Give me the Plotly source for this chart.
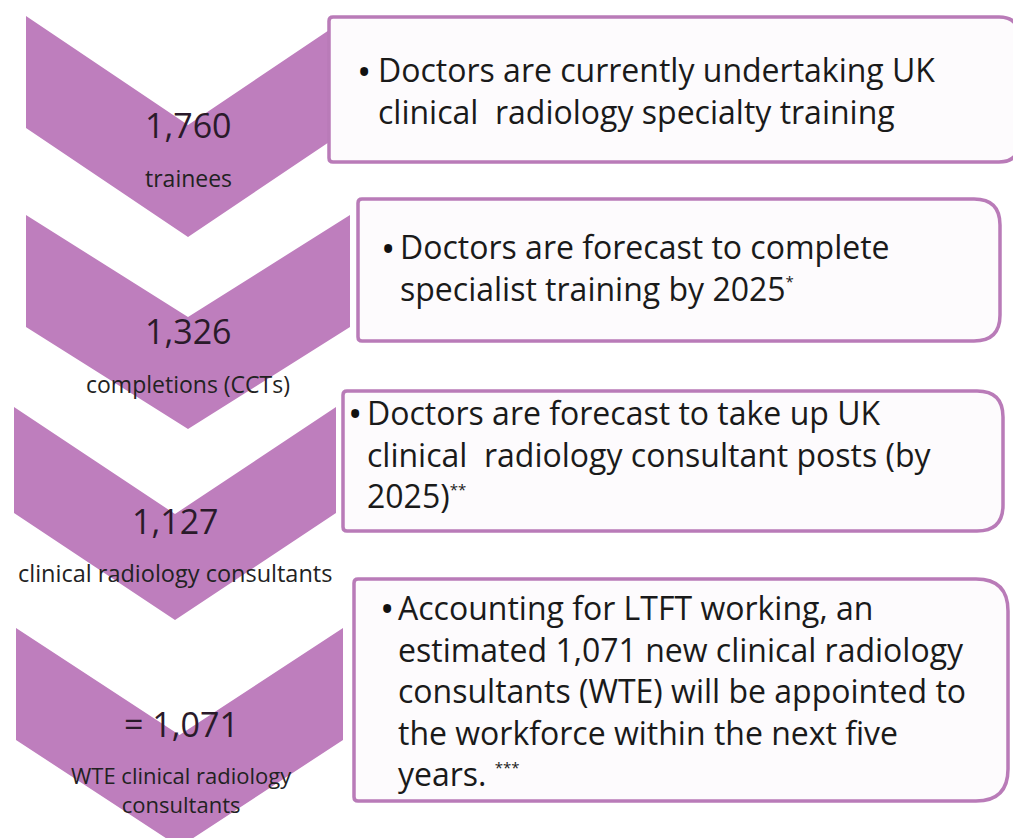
import plotly.graph_objects as go

# ---------------- data ----------------
stage_values = ["1,760", "1,326", "1,127", "= 1,071"]
stage_labels = [
    ["trainees"],
    ["completions (CCTs)"],
    ["clinical radiology consultants"],
    ["WTE clinical radiology", "consultants"],
]
SUP = '<sup><span style="font-size:15px">{}</span></sup>'
box_lines = [
    ["Doctors are currently undertaking UK",
     "clinical  radiology specialty training"],
    ["Doctors are forecast to complete",
     "specialist training by 2025" + SUP.format("*")],
    ["Doctors are forecast to take up UK",
     "clinical  radiology consultant posts (by",
     "2025)" + SUP.format("**")],
    ["Accounting for LTFT working, an",
     "estimated 1,071 new clinical radiology",
     "consultants (WTE) will be appointed to",
     "the workforce within the next five",
     "years. " + SUP.format("***")],
]

# ---------------- layout geometry (pixel space of the page) ----------------
W, H = 1021, 838
OFF = 8  # default body margin of the html page
PURPLE = "#BE7EBD"
BORDER = "#B97BB8"
FONT = "Open Sans"

# chevrons: left, right, top, left-bottom, apex
chevrons = [
    dict(L=26, R=350, T=16, B=128, A=237),
    dict(L=26, R=350, T=215, B=327, A=429),
    dict(L=14, R=336, T=407, B=513, A=620),
    dict(L=16, R=343, T=628, B=740, A=847),
]
value_y = [125, 331, 521, 724]
value_x_off = [0, 0, 0, 2]
label_y = [178, 384, 573, 789]
label_size = [23, 23, 23.5, 22]

# boxes: x0, x1, y0, y1, left radius, right radius
boxes = [
    dict(x0=329, x1=1019, y0=17, y1=162, rl=4, rr=20),
    dict(x0=358, x1=1000, y0=199, y1=341, rl=4, rr=26),
    dict(x0=343, x1=1003, y0=391, y1=531, rl=4, rr=26),
    dict(x0=354, x1=1008, y0=579, y1=801, rl=4, rr=32),
]
bullet_x = [364, 388, 355, 387]
text_x = [376, 398, 365, 396]
first_line_y = [70, 247, 412, 607]
BOX_FS = 32
LINE_H = BOX_FS * 1.3

fig = go.Figure()

# chevrons as filled polygons
for c in chevrons:
    C = (c["L"] + c["R"]) / 2
    dip = c["A"] - c["B"]
    xs = [c["L"], C, c["R"], c["R"], C, c["L"], c["L"]]
    ys = [c["T"], c["T"] + dip, c["T"], c["B"], c["A"], c["B"], c["T"]]
    fig.add_trace(go.Scatter(x=xs, y=ys, mode="lines", fill="toself",
                             fillcolor=PURPLE, line=dict(width=0, color=PURPLE),
                             hoverinfo="skip", showlegend=False))


def rounded_path(x0, x1, y0, y1, rl, rr):
    return (f"M {x0+rl},{y0} L {x1-rr},{y0} Q {x1},{y0} {x1},{y0+rr} "
            f"L {x1},{y1-rr} Q {x1},{y1} {x1-rr},{y1} L {x0+rl},{y1} "
            f"Q {x0},{y1} {x0},{y1-rl} L {x0},{y0+rl} Q {x0},{y0} {x0+rl},{y0} Z")


shapes = []
for b in boxes:
    shapes.append(dict(type="path", xref="x", yref="y",
                       path=rounded_path(b["x0"], b["x1"], b["y0"], b["y1"], b["rl"], b["rr"]),
                       fillcolor="#FDFBFD", line=dict(color=BORDER, width=3.5),
                       layer="above"))

ann = []
for i, v in enumerate(stage_values):
    c = chevrons[i]
    C = (c["L"] + c["R"]) / 2 + value_x_off[i]
    ann.append(dict(x=C, y=value_y[i], text=v, showarrow=False, xanchor="center",
                    yanchor="middle", font=dict(family=FONT, size=34, color="#2a1a2a")))
    ann.append(dict(x=C, y=label_y[i], text="<br>".join(stage_labels[i]), showarrow=False,
                    xanchor="center", yanchor="middle", align="center",
                    font=dict(family=FONT, size=label_size[i], color="#222222")))

for i, lines in enumerate(box_lines):
    ann.append(dict(x=bullet_x[i], y=first_line_y[i] + 1, text="•", showarrow=False,
                    xanchor="center", yanchor="middle",
                    font=dict(family=FONT, size=38, color="#111111")))
    n = len(lines)
    yc = first_line_y[i] + (n - 1) * LINE_H / 2
    ann.append(dict(x=text_x[i], y=yc, text="<br>".join(lines), showarrow=False,
                    xanchor="left", yanchor="middle", align="left",
                    font=dict(family=FONT, size=BOX_FS, color="#1a1a1a")))

fig.update_layout(
    width=W, height=H, margin=dict(l=0, r=0, t=0, b=0),
    paper_bgcolor="white", plot_bgcolor="white",
    xaxis=dict(range=[OFF, W + OFF], visible=False, fixedrange=True),
    yaxis=dict(range=[H + OFF, OFF], visible=False, fixedrange=True),
    shapes=shapes, annotations=ann, showlegend=False,
)

fig.write_html("out.html")
